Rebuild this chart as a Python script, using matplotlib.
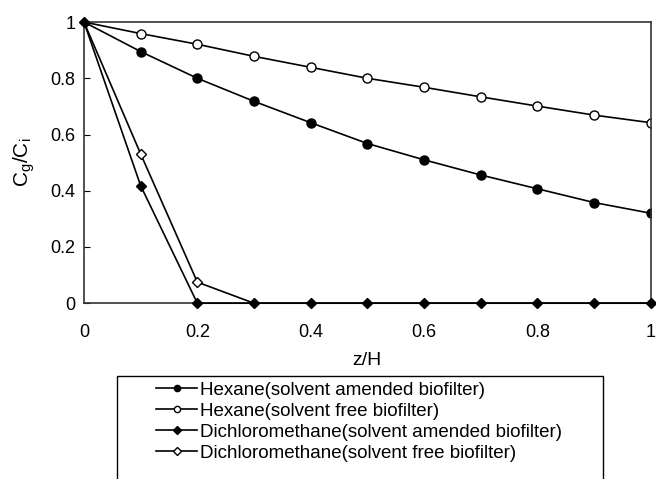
import numpy as np
import matplotlib
matplotlib.use('Agg')
import matplotlib.pyplot as plt
from matplotlib.lines import Line2D

plt.rcParams['font.family'] = ['Liberation Sans', 'DejaVu Sans']
plt.rcParams['mathtext.fontset'] = 'custom'
plt.rcParams['mathtext.rm'] = 'Liberation Sans'

# z/H positions
z = [0, 0.1, 0.2, 0.3, 0.4, 0.5, 0.6, 0.7, 0.8, 0.9, 1.0]

# Cg/Ci values
hex_amended = [1, 0.895, 0.80, 0.718, 0.642, 0.568, 0.51, 0.456, 0.407, 0.358, 0.32]
hex_free = [1, 0.959, 0.921, 0.878, 0.839, 0.80, 0.768, 0.734, 0.701, 0.669, 0.642]
dcm_amended = [1, 0.418, 0, 0, 0, 0, 0, 0, 0, 0, 0]
dcm_free = [1, 0.531, 0.075, 0, 0, 0, 0, 0, 0, 0, 0]

labels = ['Hexane(solvent amended biofilter)',
          'Hexane(solvent free biofilter)',
          'Dichloromethane(solvent amended biofilter)',
          'Dichloromethane(solvent free biofilter)']

fig = plt.figure(figsize=(6.56, 4.79), dpi=100)
ax = fig.add_axes([0.128, 0.367, 0.864, 0.587])

lw = 1.2
ax.plot(z, hex_amended, '-o', color='black', lw=lw, ms=6.5, mfc='black', label=labels[0])
ax.plot(z, hex_free, '-o', color='black', lw=lw, ms=6.5, mfc='white', label=labels[1])
ax.plot(z[:4], dcm_free[:4], '-D', color='black', lw=lw, ms=5.5, mfc='white', markevery=[0, 1, 2],
        label=labels[3])
ax.plot(z[3:], dcm_free[3:], '-', color='black', lw=lw)
ax.plot(z, dcm_amended, '-D', color='black', lw=lw, ms=5.5, mfc='black', label=labels[2],
        clip_on=False, zorder=5)

ax.set_xlim(0, 1)
ax.set_ylim(0, 1)
ax.set_xticks(np.arange(0, 1.01, 0.2))
ax.set_xticklabels(['0', '0.2', '0.4', '0.6', '0.8', '1'])
ax.set_yticks(np.arange(0, 1.01, 0.2))
ax.set_yticklabels(['0', '0.2', '0.4', '0.6', '0.8', '1'])
ax.tick_params(axis='x', length=0, labelsize=13, pad=15)
ax.tick_params(axis='y', direction='in', length=4, labelsize=13, pad=6)
for s in ax.spines.values():
    s.set_linewidth(1.2)
    s.set_color('#333333')

ax.set_xlabel('z/H', fontsize=14, labelpad=8)
ax.set_ylabel(r'C$_\mathregular{g}$/C$_\mathregular{i}$', fontsize=15, labelpad=10)

# legend box, open at the bottom: it runs off the figure as in the original
box_l, box_r, box_t = 0.178, 0.919, 0.215
fig.add_artist(Line2D([box_l, box_l, box_r, box_r], [0.0, box_t, box_t, 0.0],
                      transform=fig.transFigure, color='black', lw=1.0))

h, l = ax.get_legend_handles_labels()
order = [0, 1, 3, 2]
leg = fig.legend([h[i] for i in order], [l[i] for i in order], loc='upper left',
                 bbox_to_anchor=(0.238, 0.203), fontsize=13.5, frameon=False,
                 handlelength=2.2, handletextpad=0.15,
                 labelspacing=0.2, borderpad=0, borderaxespad=0)
for lh in leg.legend_handles:
    lh.set_markersize(4.5)

fig.savefig('out.png', dpi=100)
